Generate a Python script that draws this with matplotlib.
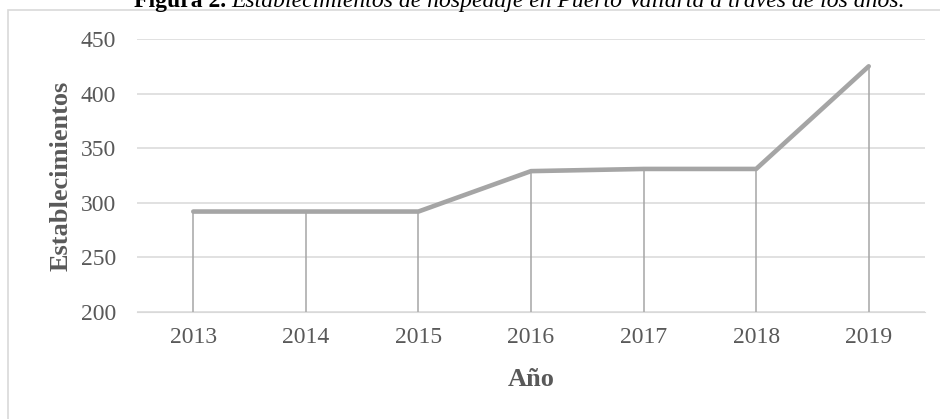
import matplotlib.pyplot as plt
from matplotlib.patches import Rectangle

# data
years = ['2013', '2014', '2015', '2016', '2017', '2018', '2019']
establecimientos = [292, 292, 292, 329, 331, 331, 425]
y_ticks = [200, 250, 300, 350, 400, 450]

plt.rcParams['font.family'] = ['Liberation Serif', 'DejaVu Serif']

W, H = 940, 419
fig = plt.figure(figsize=(W / 100, H / 100), dpi=100)
ax = fig.add_axes([137 / W, 1 - 312 / H, (925 - 137) / W, (312 - 39) / H])

x = range(len(years))
line_col = '#A5A5A5'
text_col = '#595959'

# drop lines from each point down to the axis
ax.vlines(x, 200, establecimientos, color=line_col, linewidth=1.1, zorder=2)
ax.plot(x, establecimientos, color=line_col, linewidth=3.3, solid_capstyle='round', zorder=3)

ax.set_xlim(-0.5, len(years) - 0.5)
ax.set_ylim(200, 450)
ax.set_yticks(y_ticks)
ax.set_xticks(list(x))
ax.set_xticklabels(years)
ax.grid(axis='y', color='#D9D9D9', linewidth=1.1)
ax.set_axisbelow(True)
for s in ax.spines.values():
    s.set_visible(False)
ax.spines['bottom'].set_visible(True)
ax.spines['bottom'].set_color('#D9D9D9')
ax.tick_params(length=0, labelsize=17, labelcolor=text_col)
ax.tick_params(axis='x', pad=11)
ax.tick_params(axis='y', pad=15)

ax.set_xlabel('Año', fontsize=19, fontweight='bold', color=text_col, labelpad=14)
ax.set_ylabel('Establecimientos', fontsize=19, fontweight='bold', color=text_col, labelpad=6)

# outer chart border
fig.patches.append(Rectangle((8 / W, -0.05), 1.0, 1 - 10 / H + 0.05, transform=fig.transFigure,
                             fill=False, edgecolor='#D9D9D9', linewidth=1.2))

# caption, clipped at the top like the reference
base_y = 1 - 7 / H
t1 = fig.text(0, base_y, 'Figura 2.', fontsize=17, fontweight='bold',
              color='black', va='baseline', ha='left')
t2 = fig.text(0, base_y,
              'Establecimientos de hospedaje en Puerto Vallarta a través de los años.',
              fontsize=17, style='italic', color='black', va='baseline', ha='left')
fig.canvas.draw()
w1 = t1.get_window_extent().width
w2 = t2.get_window_extent().width
gap = 5
start = 519 - (w1 + gap + w2) / 2
t1.set_x(start / W)
t2.set_x((start + w1 + gap) / W)

fig.savefig('out.png', dpi=100)
